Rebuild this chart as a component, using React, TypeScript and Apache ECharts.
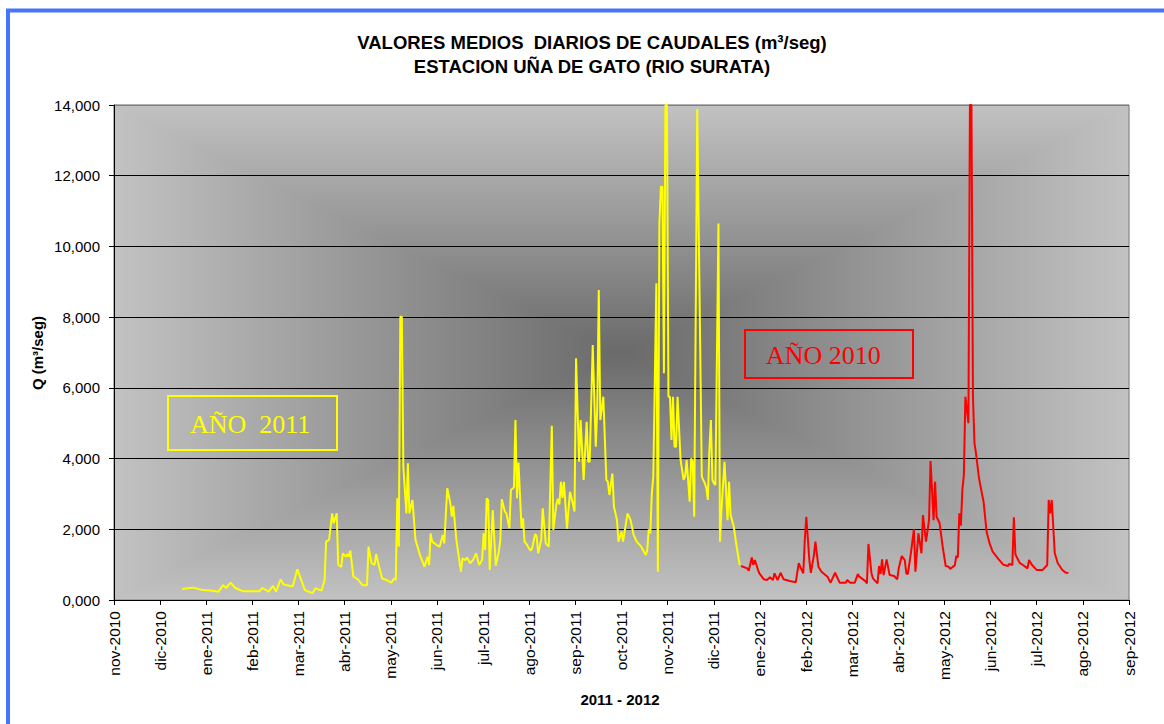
import React, { useEffect, useRef } from 'react';
import * as echarts from 'echarts';

const monthLabels = [
  'nov-2010', 'dic-2010', 'ene-2011', 'feb-2011', 'mar-2011', 'abr-2011', 'may-2011', 'jun-2011',
  'jul-2011', 'ago-2011', 'sep-2011', 'oct-2011', 'nov-2011', 'dic-2011', 'ene-2012', 'feb-2012',
  'mar-2012', 'abr-2012', 'may-2012', 'jun-2012', 'jul-2012', 'ago-2012', 'sep-2012',
];
const axisStart = '2010-11-01';
const axisEnd = '2012-09-01';
const yMax = 14000;
const yStep = 2000;

const titleLines = ['VALORES MEDIOS  DIARIOS DE CAUDALES (m³/seg)', 'ESTACION UÑA DE GATO (RIO SURATA)'];
const yName = 'Q (m³/seg)';
const xName = '2011 - 2012';
const label2011 = 'AÑO  2011';
const label2010 = 'AÑO 2010';

const caudal2011: [string, number][] = [
  ['2010-12-16', 310], ['2010-12-23', 350], ['2010-12-30', 280], ['2011-01-05', 260], ['2011-01-09', 235],
  ['2011-01-12', 420], ['2011-01-14', 340], ['2011-01-17', 490], ['2011-01-20', 340], ['2011-01-25', 250],
  ['2011-02-05', 250], ['2011-02-07', 340], ['2011-02-11', 235], ['2011-02-14', 400], ['2011-02-16', 235],
  ['2011-02-19', 585], ['2011-02-21', 440], ['2011-02-27', 380], ['2011-03-02', 870], ['2011-03-05', 520],
  ['2011-03-07', 280], ['2011-03-12', 190], ['2011-03-14', 330], ['2011-03-18', 265], ['2011-03-20', 565],
  ['2011-03-21', 1650], ['2011-03-23', 1700], ['2011-03-25', 2450], ['2011-03-26', 2170], ['2011-03-28', 2450],
  ['2011-03-29', 990], ['2011-03-31', 940], ['2011-04-01', 1320], ['2011-04-03', 1225], ['2011-04-04', 1300],
  ['2011-04-05', 1225], ['2011-04-06', 1395], ['2011-04-08', 660], ['2011-04-11', 585], ['2011-04-14', 420],
  ['2011-04-17', 420], ['2011-04-18', 1510], ['2011-04-20', 1040], ['2011-04-22', 990], ['2011-04-23', 1300],
  ['2011-04-25', 940], ['2011-04-27', 610], ['2011-04-30', 565], ['2011-05-03', 490], ['2011-05-05', 610],
  ['2011-05-06', 565], ['2011-05-07', 2875], ['2011-05-08', 1510], ['2011-05-09', 8010], ['2011-05-10', 8010],
  ['2011-05-11', 3770], ['2011-05-13', 2450], ['2011-05-14', 3865], ['2011-05-15', 2450], ['2011-05-17', 2830],
  ['2011-05-19', 1700], ['2011-05-22', 1270], ['2011-05-25', 940], ['2011-05-27', 1225], ['2011-05-28', 990],
  ['2011-05-29', 1885], ['2011-05-30', 1650], ['2011-06-02', 1555], ['2011-06-04', 1510], ['2011-06-06', 1840],
  ['2011-06-07', 1600], ['2011-06-09', 3160], ['2011-06-11', 2735], ['2011-06-12', 2355], ['2011-06-13', 2660],
  ['2011-06-15', 1700], ['2011-06-18', 800], ['2011-06-19', 1180], ['2011-06-21', 1130], ['2011-06-22', 1205],
  ['2011-06-24', 1040], ['2011-06-26', 1130], ['2011-06-28', 1320], ['2011-06-30', 990], ['2011-07-02', 1130],
  ['2011-07-03', 1885], ['2011-07-04', 1414], ['2011-07-05', 2875], ['2011-07-06', 2830], ['2011-07-07', 850],
  ['2011-07-09', 2545], ['2011-07-11', 970], ['2011-07-13', 1365], ['2011-07-14', 1700], ['2011-07-15', 2850],
  ['2011-07-17', 2500], ['2011-07-18', 2450], ['2011-07-20', 2030], ['2011-07-21', 3110], ['2011-07-23', 3185],
  ['2011-07-24', 5090], ['2011-07-25', 2875], ['2011-07-26', 3885], ['2011-07-28', 2030], ['2011-07-29', 2310],
  ['2011-07-30', 1650], ['2011-07-31', 1600], ['2011-08-03', 1395], ['2011-08-04', 1460], ['2011-08-06', 1865],
  ['2011-08-07', 1810], ['2011-08-08', 1320], ['2011-08-10', 1700], ['2011-08-11', 2595], ['2011-08-13', 1600],
  ['2011-08-15', 1510], ['2011-08-17', 4930], ['2011-08-18', 1980], ['2011-08-20', 2700], ['2011-08-21', 2860],
  ['2011-08-22', 2700], ['2011-08-23', 3345], ['2011-08-24', 2890], ['2011-08-25', 3345], ['2011-08-27', 2020],
  ['2011-08-29', 3060], ['2011-08-31', 2700], ['2011-09-01', 2500], ['2011-09-02', 6835], ['2011-09-04', 3910],
  ['2011-09-05', 5090], ['2011-09-07', 3395], ['2011-09-09', 5040], ['2011-09-10', 3910], ['2011-09-11', 3910],
  ['2011-09-13', 7210], ['2011-09-15', 4335], ['2011-09-16', 5420], ['2011-09-17', 8765], ['2011-09-18', 5090],
  ['2011-09-20', 5750], ['2011-09-22', 3395], ['2011-09-23', 3345], ['2011-09-24', 2970], ['2011-09-26', 3580],
  ['2011-09-27', 2640], ['2011-09-29', 2260], ['2011-09-30', 1650], ['2011-10-02', 1930], ['2011-10-03', 1650],
  ['2011-10-06', 2450], ['2011-10-08', 2260], ['2011-10-10', 1840], ['2011-10-12', 1650], ['2011-10-15', 1510],
  ['2011-10-18', 1270], ['2011-10-19', 1414], ['2011-10-20', 2000], ['2011-10-21', 1885], ['2011-10-22', 3000],
  ['2011-10-23', 3500], ['2011-10-25', 8955], ['2011-10-26', 800], ['2011-10-27', 10650], ['2011-10-28', 11690],
  ['2011-10-29', 11690], ['2011-10-30', 6410], ['2011-10-31', 14000], ['2011-11-01', 14000], ['2011-11-02', 5750],
  ['2011-11-03', 5750], ['2011-11-04', 4525], ['2011-11-05', 5750], ['2011-11-06', 4335], ['2011-11-07', 4335],
  ['2011-11-08', 5750], ['2011-11-10', 3960], ['2011-11-12', 3395], ['2011-11-13', 3500], ['2011-11-14', 3960],
  ['2011-11-16', 2780], ['2011-11-17', 4005], ['2011-11-18', 3900], ['2011-11-19', 2355], ['2011-11-21', 13880],
  ['2011-11-24', 3490], ['2011-11-26', 3300], ['2011-11-27', 3165], ['2011-11-28', 2830], ['2011-11-29', 4240],
  ['2011-11-30', 5090], ['2011-12-01', 3395], ['2011-12-02', 3300], ['2011-12-03', 3250], ['2011-12-05', 10650],
  ['2011-12-06', 1650], ['2011-12-07', 2545], ['2011-12-09', 3910], ['2011-12-11', 2260], ['2011-12-12', 3345],
  ['2011-12-13', 2400], ['2011-12-15', 2100], ['2011-12-17', 1510], ['2011-12-19', 990],
];

const caudal2012: [string, number][] = [
  ['2011-12-20', 960], ['2011-12-24', 895], ['2011-12-25', 830], ['2011-12-27', 1205], ['2011-12-28', 990],
  ['2011-12-29', 1130], ['2011-12-31', 870], ['2012-01-01', 755], ['2012-01-04', 585], ['2012-01-06', 565],
  ['2012-01-08', 640], ['2012-01-10', 565], ['2012-01-11', 755], ['2012-01-13', 565], ['2012-01-15', 770],
  ['2012-01-17', 585], ['2012-01-21', 535], ['2012-01-25', 500], ['2012-01-27', 1040], ['2012-01-28', 940],
  ['2012-01-30', 755], ['2012-01-31', 1700], ['2012-02-01', 2355], ['2012-02-03', 1130], ['2012-02-04', 770],
  ['2012-02-06', 1270], ['2012-02-07', 1650], ['2012-02-09', 940], ['2012-02-11', 800], ['2012-02-15', 660],
  ['2012-02-17', 490], ['2012-02-20', 770], ['2012-02-23', 490], ['2012-02-27', 490], ['2012-02-28', 565],
  ['2012-03-01', 490], ['2012-03-04', 490], ['2012-03-06', 735], ['2012-03-07', 660], ['2012-03-11', 535],
  ['2012-03-12', 470], ['2012-03-13', 1585], ['2012-03-15', 755], ['2012-03-16', 610], ['2012-03-19', 470],
  ['2012-03-20', 960], ['2012-03-21', 735], ['2012-03-22', 1150], ['2012-03-23', 705], ['2012-03-25', 1150],
  ['2012-03-27', 705], ['2012-03-30', 680], ['2012-04-01', 585], ['2012-04-02', 895], ['2012-04-04', 1245],
  ['2012-04-06', 1130], ['2012-04-07', 755], ['2012-04-08', 735], ['2012-04-10', 1320], ['2012-04-12', 2000],
  ['2012-04-13', 800], ['2012-04-15', 1885], ['2012-04-17', 1320], ['2012-04-18', 2400], ['2012-04-20', 1650],
  ['2012-04-22', 2260], ['2012-04-23', 3930], ['2012-04-25', 2260], ['2012-04-26', 3345], ['2012-04-27', 2355],
  ['2012-04-29', 2170], ['2012-05-01', 1510], ['2012-05-03', 960], ['2012-05-05', 940], ['2012-05-06', 880],
  ['2012-05-08', 950], ['2012-05-09', 980], ['2012-05-10', 1245], ['2012-05-11', 1205], ['2012-05-12', 2450],
  ['2012-05-13', 2100], ['2012-05-14', 3110], ['2012-05-15', 3535], ['2012-05-16', 5750], ['2012-05-18', 5000],
  ['2012-05-19', 14000], ['2012-05-20', 14000], ['2012-05-21', 5750], ['2012-05-22', 4430], ['2012-05-23', 4150],
  ['2012-05-25', 3440], ['2012-05-28', 2780], ['2012-05-30', 1930], ['2012-06-01', 1600], ['2012-06-03', 1365],
  ['2012-06-07', 1150], ['2012-06-10', 1000], ['2012-06-13', 960], ['2012-06-14', 1020], ['2012-06-16', 990],
  ['2012-06-17', 2340], ['2012-06-18', 1300], ['2012-06-19', 1200], ['2012-06-21', 1040], ['2012-06-23', 990],
  ['2012-06-26', 895], ['2012-06-27', 1130], ['2012-06-29', 990], ['2012-07-02', 850], ['2012-07-06', 850],
  ['2012-07-09', 990], ['2012-07-10', 2830], ['2012-07-11', 2450], ['2012-07-12', 2830], ['2012-07-14', 1320],
  ['2012-07-16', 1040], ['2012-07-19', 850], ['2012-07-21', 780], ['2012-07-23', 760],
];

function utc(d: string) {
  const [y, m, dd] = d.split('-').map(Number);
  return Date.UTC(y, m - 1, dd);
}
const nMonths = monthLabels.length - 1;
const spanMs = utc(axisEnd) - utc(axisStart);
// x position in "month slots" (the reference axis spaces its month ticks evenly)
function toX(d: string) {
  return ((utc(d) - utc(axisStart)) / spanMs) * nMonths;
}

const G = { left: 114, top: 105, width: 1015, height: 495 };
const L = G.left, T = G.top, R = G.left + G.width, B = G.top + G.height;
const CX = (L + R) / 2, CY = (T + B) / 2;
const EDGE = '#c2c2c2';
const CENTER = '#6a6a6a';

function grad(x2: number, y2: number, reverse: boolean) {
  return new echarts.graphic.LinearGradient(0, 0, x2, y2, [
    { offset: 0, color: reverse ? CENTER : EDGE },
    { offset: 1, color: reverse ? EDGE : CENTER },
  ]);
}

function bgPoly(points: number[][], fill: any) {
  return { type: 'polygon', z: -10, silent: true, shape: { points }, style: { fill, stroke: fill, lineWidth: 1 } };
}

export default function App() {
  const ref = useRef<HTMLDivElement>(null);
  useEffect(() => {
    document.body.style.margin = '0';
    const chart = echarts.init(ref.current!, null, { renderer: 'svg' });
    const font = '"Liberation Sans", Arial, sans-serif';
    const serif = '"Liberation Serif", "Times New Roman", serif';
    const splitColors = Array.from({ length: yMax / yStep + 1 }, (_, i) => (i === yMax / yStep ? '#808080' : '#000000'));
    chart.setOption({
      animation: false,
      backgroundColor: '#ffffff',
      grid: { ...G, show: true, borderColor: '#808080', borderWidth: 1, backgroundColor: 'transparent' },
      xAxis: {
        type: 'value', min: 0, max: nMonths, interval: 1,
        axisLine: { show: true, onZero: false, lineStyle: { color: '#000', width: 1 } },
        axisTick: { show: true, length: 5, lineStyle: { color: '#000' } },
        splitLine: { show: false },
        axisLabel: {
          rotate: 90, margin: 11, color: '#000', fontSize: 15.5, fontFamily: font,
          formatter: (v: number) => monthLabels[Math.round(v)] ?? '',
        },
      },
      yAxis: {
        type: 'value', min: 0, max: yMax, interval: yStep,
        axisLine: { show: true, lineStyle: { color: '#000', width: 1 } },
        axisTick: { show: true, length: 5, lineStyle: { color: '#000' } },
        splitLine: { show: true, lineStyle: { color: splitColors, width: 1 } },
        axisLabel: {
          margin: 14, color: '#000', fontSize: 15, fontFamily: font,
          formatter: (v: number) => (v === 0 ? '0,000' : v.toLocaleString('en-US')),
        },
      },
      series: [
        {
          name: '2011', type: 'line', showSymbol: false, clip: true, z: 3,
          lineStyle: { color: '#ffff00', width: 2 },
          data: caudal2011.map(([d, v]) => [toX(d), v]),
        },
        {
          name: '2012', type: 'line', showSymbol: false, clip: true, z: 3,
          lineStyle: { color: '#ff0000', width: 2 },
          data: caudal2012.map(([d, v]) => [toX(d), v]),
        },
      ],
      graphic: [
        bgPoly([[L, T], [R, T], [CX, CY]], grad(0, 1, false)),
        bgPoly([[L, B], [R, B], [CX, CY]], grad(0, 1, true)),
        bgPoly([[L, T], [L, B], [CX, CY]], grad(1, 0, false)),
        bgPoly([[R, T], [R, B], [CX, CY]], grad(1, 0, true)),
        {
          type: 'rect', z: 50, silent: true,
          shape: { x: 8, y: 10.5, width: 1400, height: 1000 },
          style: { fill: 'none', stroke: '#4673ff', lineWidth: 4 },
        },
        {
          type: 'text', z: 50, x: 592, y: 42,
          style: { text: titleLines[0], font: `bold 18.5px ${font}`, fill: '#000', textAlign: 'center', textVerticalAlign: 'middle' },
        },
        {
          type: 'text', z: 50, x: 592, y: 66,
          style: { text: titleLines[1], font: `bold 18.5px ${font}`, fill: '#000', textAlign: 'center', textVerticalAlign: 'middle' },
        },
        {
          type: 'text', z: 50, x: 37, y: 353, rotation: Math.PI / 2,
          style: { text: yName, font: `bold 15px ${font}`, fill: '#000', textAlign: 'center', textVerticalAlign: 'middle' },
        },
        {
          type: 'text', z: 50, x: 620, y: 699,
          style: { text: xName, font: `bold 15px ${font}`, fill: '#000', textAlign: 'center', textVerticalAlign: 'middle' },
        },
        {
          type: 'rect', z: 40, shape: { x: 168, y: 396, width: 169, height: 54 },
          style: { fill: 'none', stroke: '#ffff00', lineWidth: 2 },
        },
        {
          type: 'text', z: 41, x: 190, y: 424,
          style: { text: label2011, font: `26px ${serif}`, fill: '#ffff00', textAlign: 'left', textVerticalAlign: 'middle' },
        },
        {
          type: 'rect', z: 40, shape: { x: 745, y: 330, width: 168, height: 48 },
          style: { fill: 'none', stroke: '#ff0000', lineWidth: 2 },
        },
        {
          type: 'text', z: 41, x: 766, y: 355,
          style: { text: label2010, font: `26px ${serif}`, fill: '#ff0000', textAlign: 'left', textVerticalAlign: 'middle' },
        },
      ],
    });
    return () => chart.dispose();
  }, []);
  return <div ref={ref} style={{ width: 1164, height: 724, position: 'absolute', left: 0, top: 0 }} />;
}
